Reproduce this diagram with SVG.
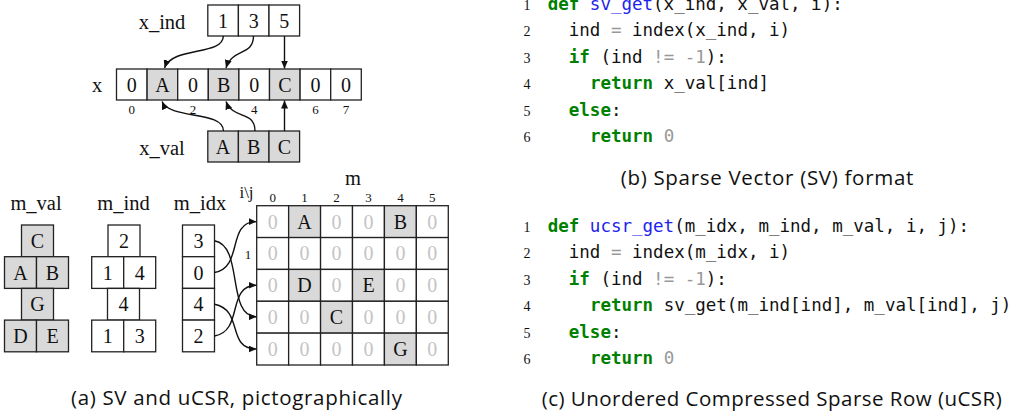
<svg xmlns="http://www.w3.org/2000/svg" width="1029" height="418" viewBox="0 0 1029 418">
<defs>
<style>
.bx{fill:#fff;stroke:#222;stroke-width:1.3}
.sh{fill:#d9d9d9;stroke:#222;stroke-width:1.3}
.t{font-family:"Liberation Serif",serif;font-size:20px;fill:#111;text-anchor:middle}
.lb{font-family:"Liberation Serif",serif;font-size:20.5px;fill:#111;text-anchor:middle}
.z{font-family:"Liberation Serif",serif;font-size:20px;fill:#c4c4c4;text-anchor:middle}
.sm{font-family:"Liberation Serif",serif;font-size:13px;fill:#111;text-anchor:middle}
.cap{font-family:"Open Sans","Noto Sans",sans-serif;font-size:20.5px;fill:#111;text-anchor:middle}
.code{font-family:"DejaVu Sans Mono",monospace;font-size:17.5px;fill:#111}
.ln{font-family:"Liberation Serif",serif;font-size:14px;fill:#111;text-anchor:middle}
.kw{fill:#008000;font-weight:bold}
.fn{fill:#2222ee}
.op{fill:#999}
.ar{fill:none;stroke:#111;stroke-width:1.4;marker-end:url(#ah)}
</style>
<marker id="ah" markerUnits="userSpaceOnUse" markerWidth="9" markerHeight="7" refX="8" refY="3.5" orient="auto">
<path d="M0,0 L8,3.5 L0,7 Z" fill="#111"/>
</marker>
</defs>
<rect width="1029" height="418" fill="#fff"/>

<g id="x_ind">
<text class="lb" x="162" y="29">x_ind</text>
<rect class="bx" x="207.8" y="5" width="30.6" height="31"/>
<rect class="bx" x="238.4" y="5" width="30.6" height="31"/>
<rect class="bx" x="269" y="5" width="30.6" height="31"/>
<text class="t" x="223.1" y="27.5">1</text>
<text class="t" x="253.7" y="27.5">3</text>
<text class="t" x="284.3" y="27.5">5</text>
</g>

<g id="x">
<text class="lb" x="97" y="91.5">x</text>
<rect class="bx" x="116.5" y="69" width="30.6" height="31"/>
<rect class="sh" x="147.1" y="69" width="30.6" height="31"/>
<rect class="bx" x="177.7" y="69" width="30.6" height="31"/>
<rect class="sh" x="208.3" y="69" width="30.6" height="31"/>
<rect class="bx" x="238.9" y="69" width="30.6" height="31"/>
<rect class="sh" x="269.5" y="69" width="30.6" height="31"/>
<rect class="bx" x="300.1" y="69" width="30.6" height="31"/>
<rect class="bx" x="330.7" y="69" width="30.6" height="31"/>
<text class="t" x="131.8" y="91.5">0</text>
<text class="t" x="162.4" y="91.5">A</text>
<text class="t" x="193" y="91.5">0</text>
<text class="t" x="223.6" y="91.5">B</text>
<text class="t" x="254.2" y="91.5">0</text>
<text class="t" x="284.8" y="91.5">C</text>
<text class="t" x="315.4" y="91.5">0</text>
<text class="t" x="346" y="91.5">0</text>
<text class="sm" x="131.8" y="113.5">0</text>
<text class="sm" x="193" y="113.5">2</text>
<text class="sm" x="254.2" y="113.5">4</text>
<text class="sm" x="315.4" y="113.5">6</text>
<text class="sm" x="346" y="113.5">7</text>
</g>

<g id="x_val">
<text class="lb" x="162" y="155">x_val</text>
<rect class="sh" x="207.8" y="131" width="30.6" height="31"/>
<rect class="sh" x="238.4" y="131" width="30.6" height="31"/>
<rect class="sh" x="269" y="131" width="30.6" height="31"/>
<text class="t" x="223.1" y="153.5">A</text>
<text class="t" x="253.7" y="153.5">B</text>
<text class="t" x="284.3" y="153.5">C</text>
</g>

<g id="m_val">
<text class="lb" x="36" y="210">m_val</text>
<rect class="sh" x="21.5" y="225" width="32" height="31.7"/>
<rect class="sh" x="4.5" y="256.7" width="32" height="31.7"/>
<rect class="sh" x="36.5" y="256.7" width="32" height="31.7"/>
<rect class="sh" x="21.5" y="288.4" width="32" height="31.7"/>
<rect class="sh" x="4.5" y="320.1" width="32" height="31.7"/>
<rect class="sh" x="36.5" y="320.1" width="32" height="31.7"/>
<text class="t" x="37.5" y="247.8">C</text>
<text class="t" x="20.5" y="279.5">A</text>
<text class="t" x="52.5" y="279.5">B</text>
<text class="t" x="37.5" y="311.2">G</text>
<text class="t" x="20.5" y="342.9">D</text>
<text class="t" x="52.5" y="342.9">E</text>
</g>

<g id="m_ind">
<text class="lb" x="123.5" y="210">m_ind</text>
<rect class="bx" x="108" y="225" width="32" height="31.7"/>
<rect class="bx" x="91.7" y="256.7" width="32" height="31.7"/>
<rect class="bx" x="123.7" y="256.7" width="32" height="31.7"/>
<rect class="bx" x="107.5" y="288.4" width="32" height="31.7"/>
<rect class="bx" x="91.7" y="320.1" width="32" height="31.7"/>
<rect class="bx" x="123.7" y="320.1" width="32" height="31.7"/>
<text class="t" x="124" y="247.8">2</text>
<text class="t" x="107.7" y="279.5">1</text>
<text class="t" x="139.7" y="279.5">4</text>
<text class="t" x="123.5" y="311.2">4</text>
<text class="t" x="107.7" y="342.9">1</text>
<text class="t" x="139.7" y="342.9">3</text>
</g>

<g id="m_idx">
<text class="lb" x="200" y="210">m_idx</text>
<rect class="bx" x="182.5" y="225" width="32" height="31.7"/>
<rect class="bx" x="182.5" y="256.7" width="32" height="31.7"/>
<rect class="bx" x="182.5" y="288.4" width="32" height="31.7"/>
<rect class="bx" x="182.5" y="320.1" width="32" height="31.7"/>
<text class="t" x="198.5" y="247.8">3</text>
<text class="t" x="198.5" y="279.5">0</text>
<text class="t" x="198.5" y="311.2">4</text>
<text class="t" x="198.5" y="342.9">2</text>
</g>

<g id="m">
<text class="lb" x="353" y="185">m</text>
<text class="sm" x="246.5" y="198" style="font-size:17px">i\j</text>
<text class="sm" x="248" y="259">1</text>
<text class="sm" x="272.7" y="202">0</text>
<text class="sm" x="304.6" y="202">1</text>
<text class="sm" x="336.5" y="202">2</text>
<text class="sm" x="368.5" y="202">3</text>
<text class="sm" x="400.4" y="202">4</text>
<text class="sm" x="432.3" y="202">5</text>
<g>
<rect class="bx" x="256.7" y="205.7" width="31.93" height="31.86"/>
<rect class="sh" x="288.63" y="205.7" width="31.93" height="31.86"/>
<rect class="bx" x="320.56" y="205.7" width="31.93" height="31.86"/>
<rect class="bx" x="352.49" y="205.7" width="31.93" height="31.86"/>
<rect class="sh" x="384.42" y="205.7" width="31.93" height="31.86"/>
<rect class="bx" x="416.35" y="205.7" width="31.93" height="31.86"/>

<rect class="bx" x="256.7" y="237.56" width="31.93" height="31.86"/>
<rect class="bx" x="288.63" y="237.56" width="31.93" height="31.86"/>
<rect class="bx" x="320.56" y="237.56" width="31.93" height="31.86"/>
<rect class="bx" x="352.49" y="237.56" width="31.93" height="31.86"/>
<rect class="bx" x="384.42" y="237.56" width="31.93" height="31.86"/>
<rect class="bx" x="416.35" y="237.56" width="31.93" height="31.86"/>

<rect class="bx" x="256.7" y="269.42" width="31.93" height="31.86"/>
<rect class="sh" x="288.63" y="269.42" width="31.93" height="31.86"/>
<rect class="bx" x="320.56" y="269.42" width="31.93" height="31.86"/>
<rect class="sh" x="352.49" y="269.42" width="31.93" height="31.86"/>
<rect class="bx" x="384.42" y="269.42" width="31.93" height="31.86"/>
<rect class="bx" x="416.35" y="269.42" width="31.93" height="31.86"/>

<rect class="bx" x="256.7" y="301.28" width="31.93" height="31.86"/>
<rect class="bx" x="288.63" y="301.28" width="31.93" height="31.86"/>
<rect class="sh" x="320.56" y="301.28" width="31.93" height="31.86"/>
<rect class="bx" x="352.49" y="301.28" width="31.93" height="31.86"/>
<rect class="bx" x="384.42" y="301.28" width="31.93" height="31.86"/>
<rect class="bx" x="416.35" y="301.28" width="31.93" height="31.86"/>

<rect class="bx" x="256.7" y="333.14" width="31.93" height="31.86"/>
<rect class="bx" x="288.63" y="333.14" width="31.93" height="31.86"/>
<rect class="bx" x="320.56" y="333.14" width="31.93" height="31.86"/>
<rect class="bx" x="352.49" y="333.14" width="31.93" height="31.86"/>
<rect class="sh" x="384.42" y="333.14" width="31.93" height="31.86"/>
<rect class="bx" x="416.35" y="333.14" width="31.93" height="31.86"/>
</g>
<g>
<text class="z" x="272.7" y="228.5">0</text><text class="t" x="304.6" y="228.5">A</text><text class="z" x="336.5" y="228.5">0</text><text class="z" x="368.5" y="228.5">0</text><text class="t" x="400.4" y="228.5">B</text><text class="z" x="432.3" y="228.5">0</text>
<text class="z" x="272.7" y="260.4">0</text><text class="z" x="304.6" y="260.4">0</text><text class="z" x="336.5" y="260.4">0</text><text class="z" x="368.5" y="260.4">0</text><text class="z" x="400.4" y="260.4">0</text><text class="z" x="432.3" y="260.4">0</text>
<text class="z" x="272.7" y="292.2">0</text><text class="t" x="304.6" y="292.2">D</text><text class="z" x="336.5" y="292.2">0</text><text class="t" x="368.5" y="292.2">E</text><text class="z" x="400.4" y="292.2">0</text><text class="z" x="432.3" y="292.2">0</text>
<text class="z" x="272.7" y="324.1">0</text><text class="z" x="304.6" y="324.1">0</text><text class="t" x="336.5" y="324.1">C</text><text class="z" x="368.5" y="324.1">0</text><text class="z" x="400.4" y="324.1">0</text><text class="z" x="432.3" y="324.1">0</text>
<text class="z" x="272.7" y="355.9">0</text><text class="z" x="304.6" y="355.9">0</text><text class="z" x="336.5" y="355.9">0</text><text class="z" x="368.5" y="355.9">0</text><text class="t" x="400.4" y="355.9">G</text><text class="z" x="432.3" y="355.9">0</text>
</g>
</g>

<g id="connectors">
<path class="ar" d="M223.3,36 C223.3,56 172,46 164.5,68"/>
<path class="ar" d="M253.5,36 C253.5,56 232,48 226,68"/>
<path class="ar" d="M284.5,36 L284.5,68.5"/>
<path class="ar" d="M223.5,131 C223.5,110 170,120 162,101.5"/>
<path class="ar" d="M255,131 C255,110 233,120 226,101.5"/>
<path class="ar" d="M284.5,131 L284.5,100.5"/>
<path class="ar" d="M214.5,240.8 C244,246 226,316.8 256.5,316.8"/>
<path class="ar" d="M214.5,272.5 C244,267 226,221.6 256.5,221.6"/>
<path class="ar" d="M214.5,304.2 C244,310 226,349 256.5,349"/>
<path class="ar" d="M214.5,336 C244,331 226,285.3 256.5,285.3"/>
</g>

<g id="caption_a">
<text class="cap" x="236.5" y="405" textLength="331">(a) SV and uCSR, pictographically</text>
</g>

<g id="code_b">
<text class="ln" x="527" y="9.5">1</text>
<text class="ln" x="527" y="36">2</text>
<text class="ln" x="527" y="62.5">3</text>
<text class="ln" x="527" y="89">4</text>
<text class="ln" x="527" y="115.5">5</text>
<text class="ln" x="527" y="142">6</text>
<text class="code" x="547.7" y="9.5"><tspan class="kw">def</tspan> <tspan class="fn">sv_get</tspan>(x_ind, x_val, i):</text>
<text class="code" x="568.8" y="36">ind <tspan class="op">=</tspan> index(x_ind, i)</text>
<text class="code" x="568.8" y="62.5"><tspan class="kw">if</tspan> (ind <tspan class="op">!=</tspan> <tspan class="op">-1</tspan>):</text>
<text class="code" x="589.9" y="89"><tspan class="kw">return</tspan> x_val[ind]</text>
<text class="code" x="568.8" y="115.5"><tspan class="kw">else</tspan>:</text>
<text class="code" x="589.9" y="142"><tspan class="kw">return</tspan> <tspan class="op">0</tspan></text>
</g>

<g id="caption_b">
<text class="cap" x="767" y="185" textLength="292.6">(b) Sparse Vector (SV) format</text>
</g>

<g id="code_c">
<text class="ln" x="527" y="231.7">1</text>
<text class="ln" x="527" y="258.2">2</text>
<text class="ln" x="527" y="284.7">3</text>
<text class="ln" x="527" y="311.2">4</text>
<text class="ln" x="527" y="337.7">5</text>
<text class="ln" x="527" y="364.2">6</text>
<text class="code" x="547.7" y="231.7"><tspan class="kw">def</tspan> <tspan class="fn">ucsr_get</tspan>(m_idx, m_ind, m_val, i, j):</text>
<text class="code" x="568.8" y="258.2">ind <tspan class="op">=</tspan> index(m_idx, i)</text>
<text class="code" x="568.8" y="284.7"><tspan class="kw">if</tspan> (ind <tspan class="op">!=</tspan> <tspan class="op">-1</tspan>):</text>
<text class="code" x="589.9" y="311.2"><tspan class="kw">return</tspan> sv_get(m_ind[ind], m_val[ind], j)</text>
<text class="code" x="568.8" y="337.7"><tspan class="kw">else</tspan>:</text>
<text class="code" x="589.9" y="364.2"><tspan class="kw">return</tspan> <tspan class="op">0</tspan></text>
</g>

<g id="caption_c">
<text class="cap" x="771.7" y="406" textLength="460">(c) Unordered Compressed Sparse Row (uCSR)</text>
</g>
</svg>
